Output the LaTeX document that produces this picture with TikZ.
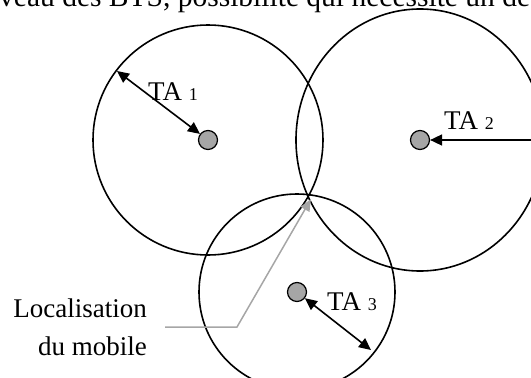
\documentclass[tikz,border=0pt]{standalone}
\usepackage{fontspec}
\setmainfont{Liberation Serif}
\usetikzlibrary{arrows.meta}

\newcommand{\talbl}[1]{{\fontsize{27}{30}\selectfont TA }{\fontsize{18}{20}\selectfont #1}}

\begin{document}
\begin{tikzpicture}[x=1pt,y=-1pt,
    >={Triangle[length=12pt,width=11pt]},
    zone/.style={line width=1.6pt},
    bts/.style={circle,draw,fill=gray!70,line width=1.2pt,minimum size=19pt,inner sep=0pt},
    ta/.style={line width=1.6pt},
    talabel/.style={anchor=base west,inner sep=0pt},
    pointer/.style={draw=gray!70,line width=1.5pt,-{Triangle[length=12pt,width=10pt]}}]
    \useasboundingbox (0,0) rectangle (531,378);
    \clip (0,0) rectangle (531,378);

    % line of text cut off at the top
    \node[anchor=base west,inner sep=0pt,font=\fontsize{29.5}{34}\selectfont] (cut) at (-1,6)
        {veau des BTS, possibilité qui nécessite un de};

    % the three cells
    \coordinate (c1) at (208,140);
    \coordinate (c2) at (420,140);
    \coordinate (c3) at (297,292);
    \draw[zone] (c1) circle (115pt);
    \draw[zone] (c2) ellipse [x radius=124pt,y radius=131pt];
    \draw[zone] (c3) circle (98pt);

    \node[bts] (d1) at (c1) {};
    \node[bts] (d2) at (c2) {};
    \node[bts] (d3) at (c3) {};

    % timing advance radii
    \coordinate (e1) at (117,71);
    \coordinate (e2) at (531,140);
    \coordinate (e3) at (371,350);
    \draw[ta,<->] (e1) -- (d1);
    \draw[ta,->] (e2) -- (d2);
    \draw[ta,<->] (d3) -- (e3);

    \node[talabel] (ta1) at (148,100) {\talbl{1}};
    \node[talabel] (ta2) at (444,129) {\talbl{2}};
    \node[talabel] (ta3) at (327,310) {\talbl{3}};

    % position of the mobile
    \node[anchor=east,align=right,inner xsep=18pt,inner ysep=0pt,
        font=\fontsize{27}{38}\selectfont] (loc) at (165,327) {Localisation\\du mobile};
    \coordinate (kink) at (237,327);
    \coordinate (fix) at (311,199);
    \draw[pointer] (loc.east) -- (kink) -- (fix);
\end{tikzpicture}
\end{document}
